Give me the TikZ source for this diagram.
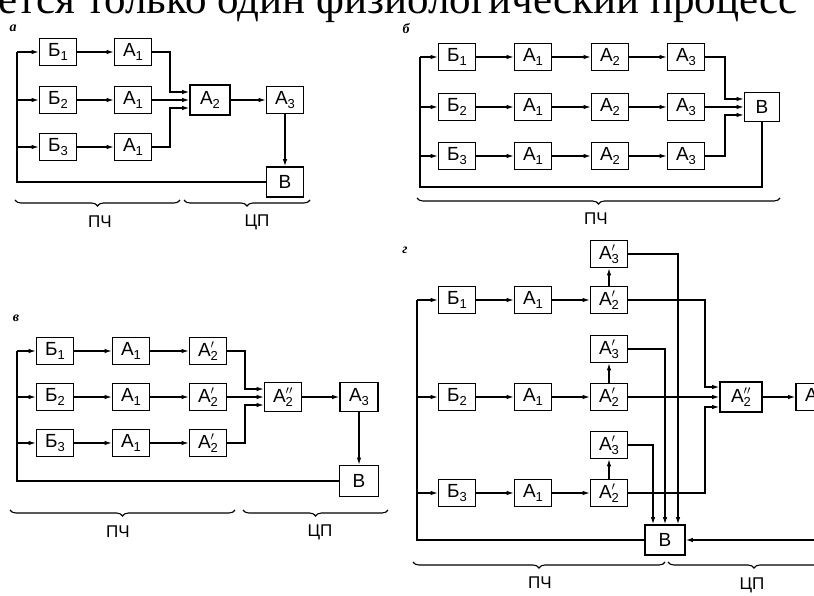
\documentclass[tikz,border=0pt]{standalone}
\usepackage{fontspec}
\setmainfont{Liberation Serif}
\newfontfamily\boxfont{Liberation Sans}
\newcommand\sbs[1]{\raisebox{-0.35ex}{\fontsize{13}{13}\selectfont#1}}
\newcommand\sps[2]{\rlap{\raisebox{0.2ex}{\fontsize{18}{18}\selectfont#1}}\sbs{#2}}
\usetikzlibrary{arrows.meta,decorations.pathreplacing}

\begin{document}
\begin{tikzpicture}[x=1pt,y=-1pt,
  blk/.style={draw, line width=1.6pt, minimum width=37pt, minimum height=27pt,
    inner sep=0pt, font=\boxfont\fontsize{19}{19}\selectfont},
  lnk/.style={-{Latex[length=7pt,width=4.5pt]}, line width=1.2pt},
  wire/.style={line width=1.2pt},
  brc/.style={decorate, decoration={brace,mirror,amplitude=6pt}, line width=1.1pt},
  lbl/.style={font=\boxfont\fontsize{17}{17}\selectfont},
  tag/.style={inner sep=0pt, font=\bfseries\itshape\fontsize{14}{14}\selectfont}]
\useasboundingbox (0,0) rectangle (814,596);
\clip (0,0) rectangle (814,596);

% line of text cut off at the top of the scan
\node[anchor=base west, inner sep=0pt, font=\fontsize{43}{43}\selectfont] (head) at (-2,14)
  {ется только один физиологический процесс};

% Figure (a): three chains merged in A2
\begin{scope}
  \node[tag] (aTag) at (13,28) {а};
  \node[blk] (aB1) at (58,52) {Б\sbs{1}};
  \node[blk] (aB2) at (58,100) {Б\sbs{2}};
  \node[blk] (aB3) at (58,147) {Б\sbs{3}};
  \node[blk] (aA11) at (133,52) {A\sbs{1}};
  \node[blk] (aA12) at (133,100) {A\sbs{1}};
  \node[blk] (aA13) at (133,147) {A\sbs{1}};
  \node[blk, minimum width=40pt, minimum height=30pt] (aA2) at (210,100) {A\sbs{2}};
  \node[blk] (aA3) at (285,100) {A\sbs{3}};
  \node[blk, minimum height=30pt] (aV) at (285,182) {В};
  \coordinate (aL) at (17,182);
  \coordinate (aJ) at (170,100);
  \coordinate (aI1) at ([yshift=8pt]aA2.west);
  \coordinate (aI3) at ([yshift=-8pt]aA2.west);
  % rows
  \foreach \r in {1,2,3} {
    \draw[lnk] (aL |- aB\r) -- (aB\r);
    \draw[lnk] (aB\r) -- (aA1\r);
  }
  \draw[lnk] (aA11.east) -| (aI1 -| aJ) -- (aI1);
  \draw[lnk] (aA12) -- (aA2);
  \draw[lnk] (aA13.east) -| (aI3 -| aJ) -- (aI3);
  \draw[lnk] (aA2) -- (aA3);
  \draw[lnk] (aA3) -- (aV);
  % feedback
  \draw[wire] (aV.west) -| (aL |- aB1);
  \draw[brc] (15,200) -- (180,200);
  \draw[brc] (184,200) -- (310,200);
  \node[lbl] (aPch) at (100,222) {ПЧ};
  \node[lbl] (aCp) at (257,222) {ЦП};
\end{scope}

% Figure (b): three full chains into B
\begin{scope}
  \node[tag] (bTag) at (406,29) {б};
  \foreach \r/\y in {1/57,2/107,3/156} {
    \node[blk] (bB\r) at (457,\y) {Б\sbs{\r}};
    \node[blk] (bA1\r) at (533,\y) {A\sbs{1}};
    \node[blk] (bA2\r) at (610,\y) {A\sbs{2}};
    \node[blk] (bA3\r) at (686,\y) {A\sbs{3}};
  }
  \node[blk, minimum width=35pt, minimum height=29pt] (bV) at (762,107) {В};
  \coordinate (bL) at (420,187);
  \coordinate (bJ) at (725,107);
  \coordinate (bI1) at ([yshift=8pt]bV.west);
  \coordinate (bI3) at ([yshift=-8pt]bV.west);
  \foreach \r in {1,2,3} {
    \draw[lnk] (bL |- bB\r) -- (bB\r);
    \draw[lnk] (bB\r) -- (bA1\r);
    \draw[lnk] (bA1\r) -- (bA2\r);
    \draw[lnk] (bA2\r) -- (bA3\r);
  }
  \draw[lnk] (bA31.east) -| (bI1 -| bJ) -- (bI1);
  \draw[lnk] (bA32) -- (bV);
  \draw[lnk] (bA33.east) -| (bI3 -| bJ) -- (bI3);
  % feedback
  \draw[wire] (bV.south) |- (bL) -- (bL |- bB1);
  \draw[brc] (417,198) -- (780,198);
  \node[lbl] (bPch) at (596,219) {ПЧ};
\end{scope}

% Figure (v): A2' per chain, merged in A2''
\begin{scope}
  \node[tag] (cTag) at (16,318) {в};
  \foreach \r/\y in {1/351,2/397,3/443} {
    \node[blk] (cB\r) at (55,\y) {Б\sbs{\r}};
    \node[blk] (cA1\r) at (131,\y) {A\sbs{1}};
    \node[blk] (cA2\r) at (208,\y) {A\sps{$'$}{2}};
  }
  \node[blk, minimum height=29pt] (cA2s) at (283,397) {A\sps{$''$}{2}};
  \node[blk, minimum width=38pt, minimum height=29pt] (cA3) at (359,397) {A\sbs{3}};
  \node[blk, minimum width=39pt, minimum height=31pt] (cV) at (359,481) {В};
  \coordinate (cL) at (17,481);
  \coordinate (cJ) at (245,397);
  \coordinate (cI1) at ([yshift=8pt]cA2s.west);
  \coordinate (cI3) at ([yshift=-8pt]cA2s.west);
  \foreach \r in {1,2,3} {
    \draw[lnk] (cL |- cB\r) -- (cB\r);
    \draw[lnk] (cB\r) -- (cA1\r);
    \draw[lnk] (cA1\r) -- (cA2\r);
  }
  \draw[lnk] (cA21.east) -| (cI1 -| cJ) -- (cI1);
  \draw[lnk] (cA22) -- (cA2s);
  \draw[lnk] (cA23.east) -| (cI3 -| cJ) -- (cI3);
  \draw[lnk] (cA2s) -- (cA3);
  \draw[lnk] (cA3) -- (cV);
  % feedback
  \draw[wire] (cV.west) -| (cL |- cB1);
  \draw[brc] (10,510) -- (235,510);
  \draw[brc] (243,510) -- (388,510);
  \node[lbl] (cPch) at (118,532) {ПЧ};
  \node[lbl] (cCp) at (320,532) {ЦП};
\end{scope}

% Figure (g): A3' branches straight to B
\begin{scope}
  \node[tag] (dTag) at (405,250) {г};
  \foreach \r/\y/\t in {1/300/254,2/397/349,3/493/445} {
    \node[blk] (dB\r) at (457,\y) {Б\sbs{\r}};
    \node[blk] (dA1\r) at (533,\y) {A\sbs{1}};
    \node[blk] (dA2\r) at (609,\y) {A\sps{$'$}{2}};
    \node[blk] (dA3\r) at (609,\t) {A\sps{$'$}{3}};
  }
  \node[blk, minimum width=42pt, minimum height=30pt] (dA2s) at (741,397) {A\sps{$''$}{2}};
  \node[blk, minimum width=38pt] (dA3) at (815,397) {A\sbs{3}};
  \node[blk, minimum width=40pt, minimum height=30pt] (dV) at (665,540) {В};
  \coordinate (dL) at (417,540);
  \coordinate (dJ) at (705,397);
  \coordinate (dI1) at ([yshift=10pt]dA2s.west);
  \coordinate (dI3) at ([yshift=-10pt]dA2s.west);
  \coordinate (dT1) at ([xshift=13pt]dV.north);
  \coordinate (dT3) at ([xshift=-12pt]dV.north);
  \foreach \r in {1,2,3} {
    \draw[lnk] (dL |- dB\r) -- (dB\r);
    \draw[lnk] (dB\r) -- (dA1\r);
    \draw[lnk] (dA1\r) -- (dA2\r);
    \draw[lnk] (dA2\r) -- (dA3\r);
  }
  % A3' into B
  \draw[lnk] (dA31.east) -| (dT1);
  \draw[lnk] (dA32.east) -| (dV.north);
  \draw[lnk] (dA33.east) -| (dT3);
  % A2' into A2''
  \draw[lnk] (dA21.east) -| (dI1 -| dJ) -- (dI1);
  \draw[lnk] (dA22) -- (dA2s);
  \draw[lnk] (dA23.east) -| (dI3 -| dJ) -- (dI3);
  \draw[lnk] (dA2s) -- (dA3);
  \draw[lnk] (dA3.south) |- (dV.east);
  % feedback
  \draw[wire] (dV.west) -| (dL |- dB1);
  \draw[brc] (413,562) -- (665,562);
  \draw[brc] (668,562) -- (840,562);
  \node[lbl] (dPch) at (540,583) {ПЧ};
  \node[lbl] (dCp) at (752,585) {ЦП};
\end{scope}
\end{tikzpicture}
\end{document}
